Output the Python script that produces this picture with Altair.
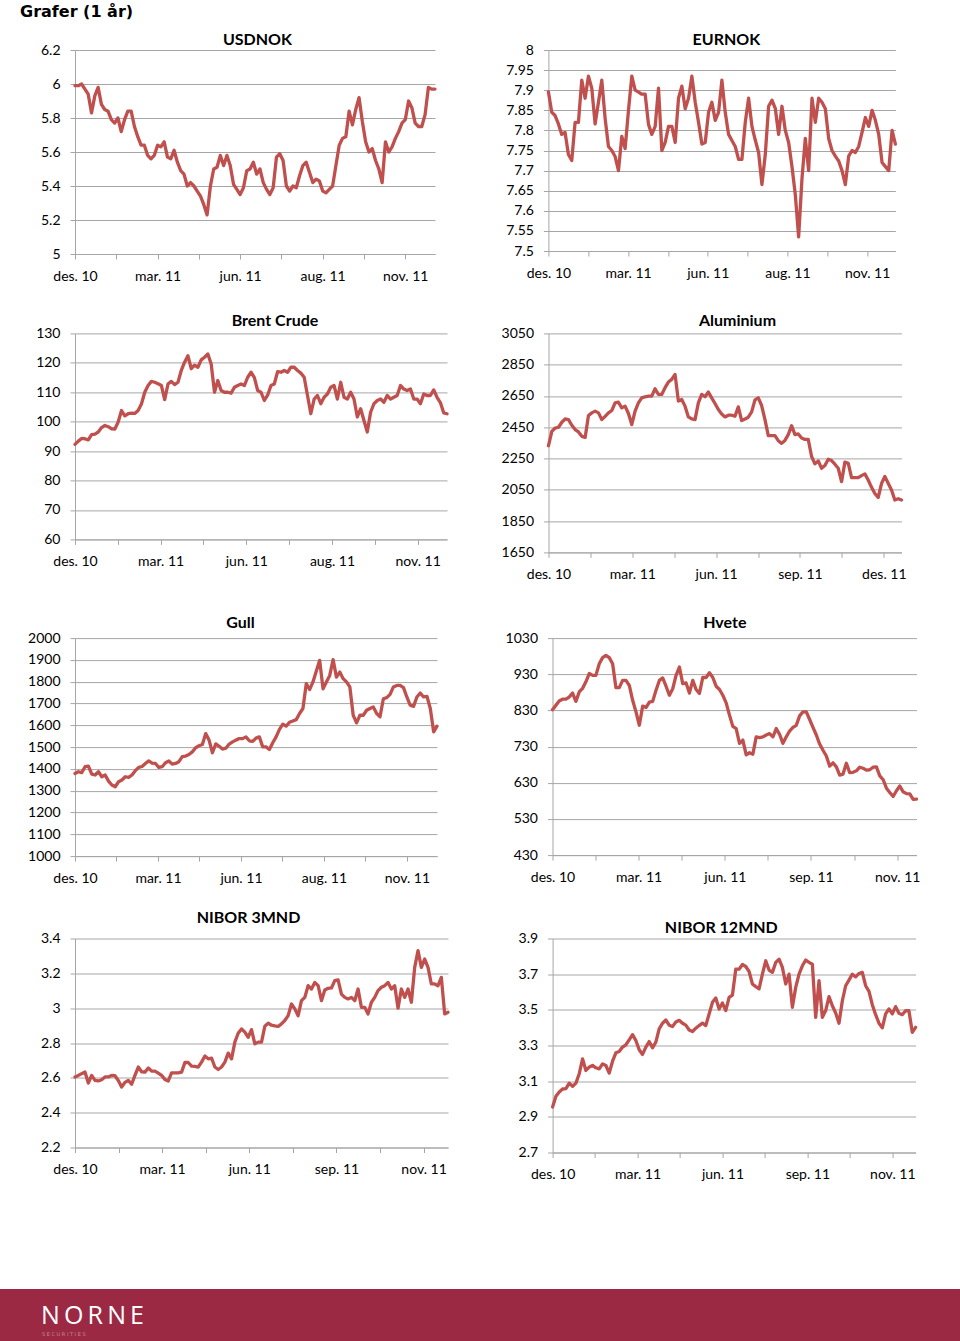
import altair as alt
import pandas as pd

LINE = "#c0504d"
GRID = "#a6a6a6"
FONT = "Lato"
FOOTER = "#9c2944"

# ---- series values (evenly spaced over the year) ----
USDNOK = [5.99, 5.99, 6.00, 5.97, 5.94, 5.83, 5.93, 5.98, 5.88, 5.85,
          5.84, 5.79, 5.77, 5.80, 5.72, 5.79, 5.84, 5.84, 5.75, 5.69,
          5.64, 5.64, 5.58, 5.56, 5.58, 5.64, 5.63, 5.66, 5.57, 5.56,
          5.61, 5.54, 5.49, 5.47, 5.40, 5.42, 5.40, 5.37, 5.34, 5.29,
          5.23, 5.40, 5.50, 5.51, 5.58, 5.52, 5.58, 5.52, 5.41, 5.38,
          5.35, 5.39, 5.49, 5.50, 5.54, 5.47, 5.50, 5.42, 5.38, 5.35,
          5.39, 5.57, 5.59, 5.55, 5.40, 5.37, 5.40, 5.39, 5.46, 5.52,
          5.54, 5.48, 5.42, 5.44, 5.43, 5.37, 5.36, 5.38, 5.40, 5.52,
          5.64, 5.68, 5.69, 5.84, 5.76, 5.85, 5.92, 5.78, 5.66, 5.60,
          5.62, 5.55, 5.50, 5.42, 5.66, 5.60, 5.63, 5.68, 5.72, 5.77,
          5.79, 5.90, 5.86, 5.77, 5.75, 5.75, 5.82, 5.98, 5.97, 5.97]

EURNOK = [7.896, 7.845, 7.837, 7.816, 7.79, 7.795, 7.74, 7.725, 7.82, 7.82,
          7.925, 7.88, 7.935, 7.905, 7.816, 7.87, 7.925, 7.83, 7.76, 7.75,
          7.735, 7.70, 7.785, 7.755, 7.85, 7.935, 7.90, 7.895, 7.89, 7.89,
          7.815, 7.79, 7.81, 7.905, 7.75, 7.77, 7.81, 7.81, 7.77, 7.88,
          7.91, 7.854, 7.88, 7.935, 7.87, 7.82, 7.766, 7.77, 7.845, 7.87,
          7.825, 7.845, 7.925, 7.845, 7.79, 7.775, 7.76, 7.728, 7.728, 7.82,
          7.88, 7.81, 7.776, 7.745, 7.665, 7.74, 7.86, 7.875, 7.855, 7.79,
          7.86, 7.80, 7.77, 7.71, 7.64, 7.535, 7.68, 7.78, 7.70, 7.88,
          7.82, 7.88, 7.87, 7.854, 7.78, 7.75, 7.736, 7.724, 7.70, 7.665,
          7.736, 7.75, 7.745, 7.76, 7.795, 7.832, 7.81, 7.85, 7.825, 7.79,
          7.72, 7.71, 7.70, 7.80, 7.766]

BRENT = [92.3, 93.4, 94.3, 94.2, 93.8, 95.6, 95.8, 96.5, 98.0, 98.7,
         98.3, 97.6, 97.5, 99.9, 103.8, 102.0, 102.7, 102.9, 102.8, 103.8,
         106.0, 110.0, 112.3, 113.7, 113.4, 112.9, 112.3, 107.5, 112.8, 113.7,
         112.6, 113.4, 117.4, 120.2, 122.4, 118.0, 119.2, 118.5, 121.0, 121.9,
         123.0, 119.6, 110.0, 114.0, 110.6, 110.0, 110.0, 109.7, 111.7, 112.3,
         112.8, 112.3, 115.1, 116.8, 115.0, 110.6, 110.0, 107.2, 109.0, 112.3,
         112.8, 117.0, 116.8, 117.4, 116.8, 118.5, 118.5, 117.4, 116.5, 115.1,
         108.9, 102.7, 107.7, 108.9, 106.1, 108.3, 109.4, 111.7, 112.3, 107.7,
         113.4, 108.3, 107.7, 110.0, 107.7, 101.6, 104.4, 100.4, 96.5, 103.2,
         106.1, 107.2, 107.7, 106.6, 108.9, 107.7, 108.3, 108.9, 112.3, 111.1,
         110.6, 111.1, 107.7, 107.7, 106.1, 109.4, 108.9, 108.9, 110.8, 108.3,
         106.5, 103.0, 102.7]

ALUMINIUM = [2332, 2424, 2445, 2450, 2482, 2503, 2499, 2463, 2435, 2420,
             2392, 2385, 2525, 2542, 2553, 2542, 2499, 2520, 2542, 2557,
             2606, 2610, 2574, 2585, 2538, 2467, 2553, 2606, 2638, 2645,
             2649, 2649, 2696, 2660, 2660, 2703, 2739, 2756, 2788, 2617,
             2628, 2585, 2516, 2503, 2499, 2606, 2660, 2645, 2675, 2638,
             2602, 2563, 2535, 2516, 2527, 2527, 2520, 2580, 2493, 2503,
             2514, 2548, 2625, 2638, 2589, 2499, 2396, 2396, 2396, 2364,
             2347, 2366, 2403, 2460, 2403, 2407, 2381, 2372, 2372, 2263,
             2216, 2235, 2188, 2205, 2246, 2237, 2214, 2188, 2102, 2227,
             2220, 2128, 2128, 2128, 2141, 2152, 2113, 2066, 2027, 2001,
             2090, 2135, 2092, 2049, 1985, 1993, 1985]

GULL = [1379, 1387, 1383, 1410, 1413, 1376, 1372, 1387, 1364, 1372,
        1344, 1326, 1318, 1341, 1349, 1364, 1361, 1372, 1392, 1407,
        1411, 1425, 1437, 1427, 1425, 1407, 1410, 1428, 1436, 1422,
        1425, 1433, 1456, 1459, 1466, 1478, 1497, 1506, 1512, 1562,
        1532, 1474, 1515, 1504, 1491, 1495, 1514, 1524, 1532, 1539,
        1539, 1547, 1529, 1526, 1541, 1547, 1501, 1501, 1489, 1520,
        1547, 1581, 1605, 1596, 1614, 1620, 1626, 1654, 1677, 1791,
        1764, 1799, 1849, 1898, 1767, 1799, 1829, 1901, 1821, 1844,
        1814, 1799, 1776, 1646, 1611, 1646, 1646, 1669, 1677, 1684,
        1654, 1639, 1722, 1727, 1742, 1776, 1783, 1783, 1773, 1730,
        1692, 1687, 1730, 1748, 1730, 1733, 1677, 1570, 1596]

HVETE = [832, 844, 856, 861, 861, 867, 878, 855, 881, 891,
         909, 932, 927, 927, 959, 976, 982, 976, 959, 893,
         893, 913, 913, 899, 858, 826, 789, 842, 838, 853,
         855, 886, 913, 920, 897, 872, 890, 927, 950, 904,
         906, 878, 913, 888, 877, 921, 921, 934, 921, 897,
         888, 872, 851, 817, 786, 780, 739, 748, 707, 713,
         709, 757, 755, 757, 762, 766, 757, 780, 764, 739,
         757, 773, 783, 789, 815, 826, 826, 805, 783, 762,
         737, 720, 704, 676, 685, 674, 651, 654, 684, 658,
         659, 663, 673, 670, 665, 666, 673, 674, 649, 639,
         615, 603, 592, 608, 621, 605, 600, 599, 584, 585]

NIBOR3 = [2.605, 2.614, 2.624, 2.633, 2.570, 2.614, 2.585, 2.582, 2.589, 2.605,
          2.605, 2.614, 2.612, 2.585, 2.547, 2.574, 2.585, 2.563, 2.614, 2.662,
          2.635, 2.633, 2.656, 2.639, 2.639, 2.627, 2.614, 2.591, 2.582, 2.629,
          2.629, 2.629, 2.633, 2.688, 2.688, 2.667, 2.666, 2.662, 2.690, 2.725,
          2.709, 2.713, 2.662, 2.648, 2.662, 2.690, 2.742, 2.709, 2.805, 2.856,
          2.881, 2.862, 2.833, 2.877, 2.795, 2.805, 2.805, 2.896, 2.914, 2.902,
          2.898, 2.895, 2.910, 2.929, 2.957, 3.024, 2.996, 2.957, 3.043, 3.062,
          3.129, 3.110, 3.148, 3.129, 3.043, 3.104, 3.114, 3.116, 3.158, 3.162,
          3.081, 3.062, 3.053, 3.062, 3.043, 3.110, 3.005, 3.005, 2.967, 3.034,
          3.062, 3.101, 3.120, 3.129, 3.148, 3.110, 3.129, 3.000, 3.110, 3.062,
          3.110, 3.034, 3.234, 3.330, 3.234, 3.282, 3.234, 3.139, 3.139, 3.129,
          3.177, 2.967, 2.977]

NIBOR12 = [2.955, 3.015, 3.039, 3.056, 3.058, 3.089, 3.071, 3.089, 3.142, 3.225,
           3.160, 3.179, 3.188, 3.175, 3.169, 3.197, 3.188, 3.145, 3.212, 3.259,
           3.266, 3.291, 3.304, 3.332, 3.361, 3.328, 3.276, 3.250, 3.291, 3.322,
           3.287, 3.319, 3.393, 3.425, 3.443, 3.414, 3.406, 3.432, 3.441, 3.425,
           3.414, 3.387, 3.378, 3.397, 3.412, 3.425, 3.412, 3.477, 3.542, 3.566,
           3.505, 3.538, 3.496, 3.570, 3.583, 3.728, 3.728, 3.754, 3.743, 3.715,
           3.645, 3.630, 3.618, 3.700, 3.775, 3.723, 3.710, 3.766, 3.784, 3.738,
           3.645, 3.700, 3.514, 3.626, 3.700, 3.747, 3.779, 3.766, 3.756, 3.458,
           3.663, 3.458, 3.496, 3.574, 3.523, 3.482, 3.425, 3.551, 3.635, 3.667,
           3.700, 3.685, 3.704, 3.710, 3.635, 3.604, 3.529, 3.473, 3.425, 3.399,
           3.477, 3.505, 3.477, 3.518, 3.481, 3.473, 3.495, 3.495, 3.374, 3.402]

# ---- axis tick labels ----
X_AUG = ["des. 10", "mar. 11", "jun. 11", "aug. 11", "nov. 11"]
X_SEP = ["des. 10", "mar. 11", "jun. 11", "sep. 11", "nov. 11"]
X_ALU = ["des. 10", "mar. 11", "jun. 11", "sep. 11", "des. 11"]

Y_USDNOK = [5, 5.2, 5.4, 5.6, 5.8, 6, 6.2]
Y_EURNOK = [7.5, 7.55, 7.6, 7.65, 7.7, 7.75, 7.8, 7.85, 7.9, 7.95, 8]
Y_BRENT = [60, 70, 80, 90, 100, 110, 120, 130]
Y_ALU = [1650, 1850, 2050, 2250, 2450, 2650, 2850, 3050]
Y_GULL = [1000, 1100, 1200, 1300, 1400, 1500, 1600, 1700, 1800, 1900, 2000]
Y_HVETE = [430, 530, 630, 730, 830, 930, 1030]
Y_N3 = [2.2, 2.4, 2.6, 2.8, 3, 3.2, 3.4]
Y_N12 = [2.7, 2.9, 3.1, 3.3, 3.5, 3.7, 3.9]

TICK_DAYS = 30  # one minor x tick every 30 trading days


def panel(title, values, span_ticks, xlabels, yticks, width, height,
          title_offset, title_dx):
    total = TICK_DAYS * span_ticks
    n = len(values)
    df = pd.DataFrame({"day": [i * total / (n - 1) for i in range(n)],
                       "v": values})
    labs = []
    for k in range(9):
        labs.append(xlabels[k // 2] if k % 2 == 0 else "")
    expr = "[" + ",".join("'%s'" % s for s in labs) + "][round(datum.value / %d)]" % TICK_DAYS
    return alt.Chart(df).mark_line(
        color=LINE, strokeWidth=3.3, strokeJoin="round", strokeCap="round"
    ).encode(
        x=alt.X("day:Q",
                scale=alt.Scale(domain=[0, total], nice=False, zero=False),
                axis=alt.Axis(values=[TICK_DAYS * k for k in range(9)],
                              labelExpr=expr, grid=False, title=None,
                              labelFlush=False, labelOverlap=False,
                              tickSize=5, labelPadding=10)),
        y=alt.Y("v:Q",
                scale=alt.Scale(domain=[yticks[0], yticks[-1]], nice=False, zero=False),
                axis=alt.Axis(values=yticks, labelExpr="format(datum.value, '~r')",
                              grid=True, title=None,
                              labelOverlap=False, tickSize=5, labelPadding=10)),
    ).properties(
        width=width, height=height,
        title=alt.TitleParams(title, font=FONT, fontSize=16, fontWeight="bold",
                              color="black", anchor="middle", frame="group",
                              offset=title_offset, dx=title_dx),
    )


p_usd = panel("USDNOK", USDNOK, 8.722, X_AUG, Y_USDNOK, 360, 204, -5.4, 2.5)
p_eur = panel("EURNOK", EURNOK, 8.710, X_AUG, Y_EURNOK, 347, 201, -5.4, 4.5)
p_brent = panel("Brent Crude", BRENT, 8.686, X_AUG, Y_BRENT, 372, 206, -2.4, 14)
p_alu = panel("Aluminium", ALUMINIUM, 8.422, X_ALU, Y_ALU, 353, 219, -2.4, 12.5)
p_gull = panel("Gull", GULL, 8.726, X_AUG, Y_GULL, 362, 218, 0.3, -15.5)
p_hvete = panel("Hvete", HVETE, 8.449, X_SEP, Y_HVETE, 364, 217, 0.3, -9.7)
p_n3 = panel("NIBOR 3MND", NIBOR3, 8.561, X_SEP, Y_N3, 373, 209, 5.1, -13)
p_n12 = panel("NIBOR 12MND", NIBOR12, 8.549, X_SEP, Y_N12, 363, 214, -4.7, -12.8)

row1 = alt.hconcat(p_usd, p_eur, spacing=68.4)
row2 = alt.hconcat(p_brent, p_alu, spacing=51.5)
row3 = alt.hconcat(p_gull, p_hvete, spacing=65.5)
row4 = alt.hconcat(p_n3, p_n12, spacing=67.6)

# ---- footer band with logo text ----
one = alt.Data(values=[{"k": 0}])
band = alt.Chart(one).mark_rect(color=FOOTER).encode(
    x=alt.value(-75), x2=alt.value(885), y=alt.value(0), y2=alt.value(52))
logo = alt.Chart(one).mark_text(
    text="N\u2009O\u2009R\u2009N\u2009E", font="Open Sans", fontSize=25, color="white",
    align="left", baseline="alphabetic").encode(x=alt.value(-34), y=alt.value(35))
logo_sub = alt.Chart(one).mark_text(
    text="S E C U R I T I E S", font="DejaVu Sans", fontSize=5, color="#c08a98",
    align="left", baseline="alphabetic").encode(x=alt.value(-33), y=alt.value(47))
footer = alt.layer(band, logo, logo_sub).properties(width=885, height=52)

lower = alt.vconcat(row4, footer, spacing=107.5)
lower = alt.vconcat(row3, lower, spacing=24.4)
lower = alt.vconcat(row2, lower, spacing=32.7)
chart = alt.vconcat(row1, lower, spacing=29.4).properties(
    title=alt.TitleParams("Grafer (1 år)", font="DejaVu Sans", fontSize=16,
                          fontWeight="bold", color="black", anchor="start",
                          frame="bounds", dx=20, offset=12.4),
    padding={"left": 0, "top": 4, "right": 0, "bottom": 0},
    background="white",
).configure_view(
    strokeWidth=0
).configure_axis(
    labelFont=FONT, labelFontSize=14, labelColor="black",
    domainColor=GRID, tickColor=GRID, gridColor=GRID,
    domainWidth=1, tickWidth=1, gridWidth=1,
)

chart.save("out.html", embed_options={"renderer": "svg", "actions": False})
